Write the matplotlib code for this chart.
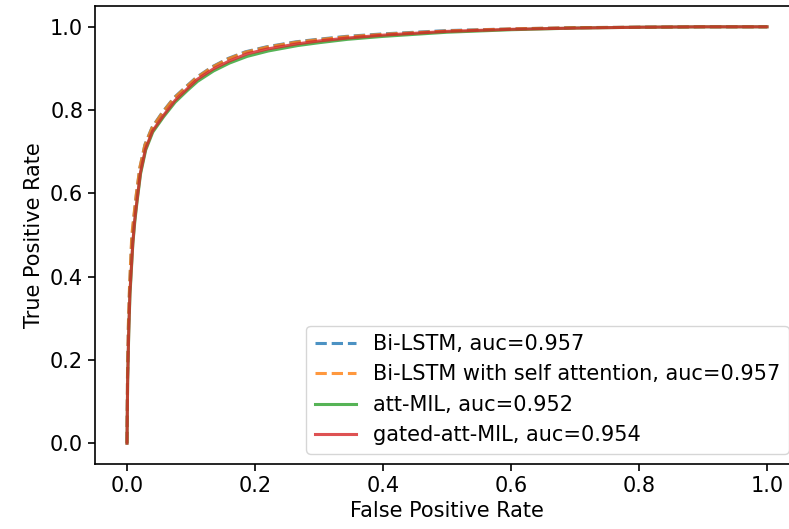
import matplotlib
matplotlib.use("Agg")
import matplotlib.pyplot as plt

labels = ["Bi-LSTM, auc=0.957", "Bi-LSTM with self attention, auc=0.957",
          "att-MIL, auc=0.952", "gated-att-MIL, auc=0.954"]

fpr_bilstm = [0.0, 0.0008, 0.0022, 0.004, 0.0075, 0.011, 0.0145, 0.020, 0.028, 0.039, 0.055, 0.073, 0.092, 0.108, 0.133, 0.158, 0.185, 0.218, 0.264, 0.298, 0.342, 0.40, 0.50, 0.60, 0.70, 0.80, 0.90, 1.0]
tpr_bilstm = [0.0, 0.16, 0.28, 0.37, 0.49, 0.545, 0.595, 0.66, 0.717, 0.758, 0.794, 0.829, 0.856, 0.878, 0.904, 0.924, 0.940, 0.952, 0.964, 0.970, 0.977, 0.983, 0.991, 0.995, 0.998, 0.999, 1.0, 1.0]

fpr_selfatt = [0.0, 0.0008, 0.0022, 0.004, 0.0075, 0.011, 0.0145, 0.020, 0.028, 0.039, 0.055, 0.073, 0.092, 0.108, 0.133, 0.158, 0.185, 0.218, 0.264, 0.298, 0.342, 0.40, 0.50, 0.60, 0.70, 0.80, 0.90, 1.0]
tpr_selfatt = [0.0, 0.17, 0.29, 0.38, 0.50, 0.55, 0.598, 0.662, 0.716, 0.757, 0.793, 0.828, 0.855, 0.877, 0.903, 0.923, 0.939, 0.951, 0.963, 0.969, 0.976, 0.982, 0.990, 0.995, 0.998, 0.999, 1.0, 1.0]

fpr_attmil = [0.0, 0.001, 0.0027, 0.0046, 0.0091, 0.0122, 0.0157, 0.0212, 0.0292, 0.0402, 0.0572, 0.0752, 0.0942, 0.1102, 0.1352, 0.1602, 0.1878, 0.2208, 0.2668, 0.3008, 0.3448, 0.40, 0.50, 0.60, 0.70, 0.80, 0.90, 1.0]
tpr_attmil = [0.0, 0.15, 0.262, 0.355, 0.478, 0.532, 0.58, 0.647, 0.704, 0.747, 0.784, 0.819, 0.847, 0.869, 0.894, 0.913, 0.929, 0.942, 0.955, 0.962, 0.970, 0.977, 0.987, 0.993, 0.997, 0.999, 1.0, 1.0]

fpr_gated = [0.0, 0.001, 0.0026, 0.0045, 0.009, 0.012, 0.0156, 0.021, 0.029, 0.040, 0.057, 0.075, 0.094, 0.110, 0.135, 0.160, 0.1875, 0.220, 0.266, 0.300, 0.344, 0.40, 0.50, 0.60, 0.70, 0.80, 0.90, 1.0]
tpr_gated = [0.0, 0.15, 0.264, 0.36, 0.48, 0.535, 0.583, 0.65, 0.707, 0.750, 0.787, 0.823, 0.851, 0.874, 0.899, 0.918, 0.935, 0.947, 0.959, 0.966, 0.973, 0.980, 0.989, 0.994, 0.997, 0.999, 1.0, 1.0]

fig = plt.figure(figsize=(7.89, 5.29), dpi=100)
ax = fig.add_axes([95 / 789, 1 - 464 / 529, 704 / 789, 458 / 529])

lw = 2.2
ax.plot(fpr_bilstm, tpr_bilstm, "--", color="#1f77b4", lw=lw, alpha=0.8, label=labels[0])
ax.plot(fpr_selfatt, tpr_selfatt, "--", color="#ff7f0e", lw=lw, alpha=0.8, label=labels[1])
ax.plot(fpr_attmil, tpr_attmil, "-", color="#2ca02c", lw=lw, alpha=0.8, label=labels[2])
ax.plot(fpr_gated, tpr_gated, "-", color="#d62728", lw=lw, alpha=0.8, label=labels[3])

fs = 15
ax.set_xlabel("False Positive Rate", fontsize=fs)
ax.set_ylabel("True Positive Rate", fontsize=fs)
ax.tick_params(labelsize=fs, width=1.2, length=5)
for s in ax.spines.values():
    s.set_linewidth(1.2)
ax.legend(loc="lower right", fontsize=fs)

fig.savefig("out.png", dpi=100)
